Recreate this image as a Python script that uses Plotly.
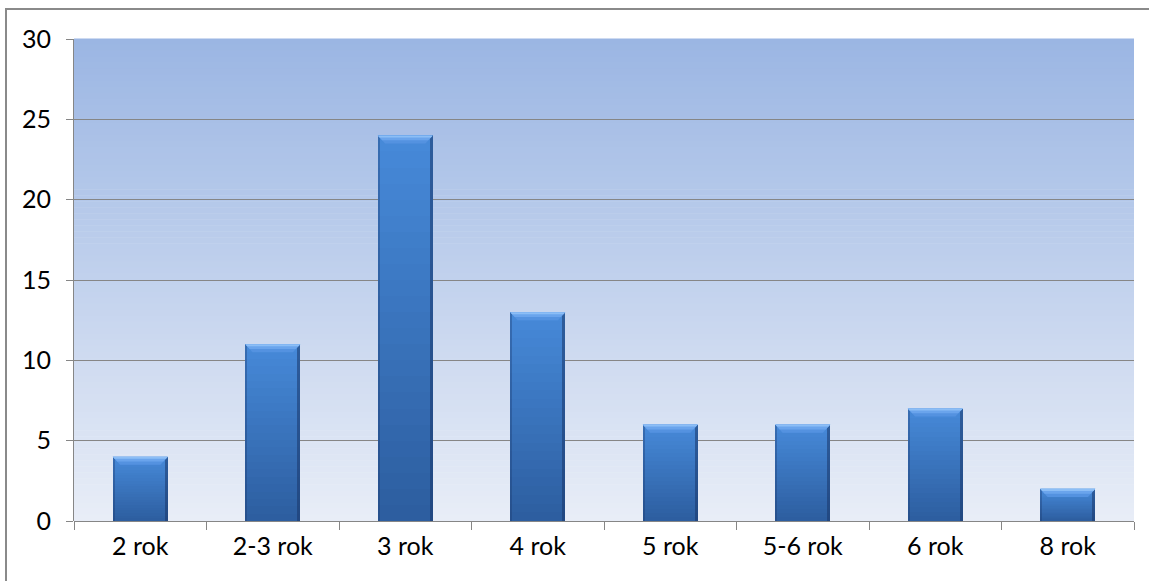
import plotly.graph_objects as go

# Data
categories = ["2 rok", "2-3 rok", "3 rok", "4 rok", "5 rok", "5-6 rok", "6 rok", "8 rok"]
counts = [4, 11, 24, 13, 6, 6, 7, 2]
y_ticks = [0, 5, 10, 15, 20, 25, 30]

positions = list(range(len(categories)))
BAR_W = 0.415
FONT = dict(family="Lato, 'Open Sans', sans-serif", size=25, color="#000000")


def mix(c1, c2, t):
    r = [round(a + (b - a) * t) for a, b in zip(c1, c2)]
    return "rgb(%d,%d,%d)" % tuple(r)


fig = go.Figure()

# Bar body: stacked overlays from light (top) to dark (bottom)
top_c, bot_c = (70, 137, 216), (45, 94, 160)
N = 24
for k in range(N):
    t = k / (N - 1)
    heights = [v * (N - k) / N for v in counts]
    fig.add_trace(go.Bar(
        x=positions, y=heights, width=BAR_W,
        marker=dict(color=mix(top_c, bot_c, t), line=dict(width=0)),
        hoverinfo="skip", showlegend=False,
    ))

# Darker side edges of each bar
edge_w = 0.022
fig.add_trace(go.Bar(
    x=positions, y=counts, width=edge_w, offset=BAR_W / 2 - edge_w,
    marker=dict(color="rgba(25,55,105,0.55)", line=dict(width=0)),
    hoverinfo="skip", showlegend=False,
))
fig.add_trace(go.Bar(
    x=positions, y=counts, width=edge_w * 0.7, offset=-BAR_W / 2,
    marker=dict(color="rgba(25,55,105,0.35)", line=dict(width=0)),
    hoverinfo="skip", showlegend=False,
))

# Bevelled top face of each bar
bev_h = 0.5
bev_x = 0.055
for layer_h, layer_col in [(bev_h, "rgb(84,146,224)"), (bev_h * 0.6, "rgb(106,164,236)"),
                           (bev_h * 0.25, "rgb(140,190,246)")]:
    for p, v in zip(positions, counts):
        xl, xr = p - BAR_W / 2, p + BAR_W / 2
        fx = bev_x * layer_h / bev_h
        fig.add_trace(go.Scatter(
            x=[xl, xr, xr - fx, xl + fx, xl],
            y=[v, v, v - layer_h, v - layer_h, v],
            fill="toself", fillcolor=layer_col, mode="lines",
            line=dict(width=0), hoverinfo="skip", showlegend=False,
        ))

# Plot background gradient bands
shapes = []
bands = 80
bg_top, bg_bot = (155, 182, 227), (232, 237, 247)
for i in range(bands):
    t = i / (bands - 1)
    shapes.append(dict(
        type="rect", xref="paper", yref="paper",
        x0=0, x1=1, y0=1 - (i + 1) / bands, y1=1 - i / bands + 0.001,
        fillcolor=mix(bg_top, bg_bot, t), line=dict(width=0), layer="below",
    ))

# Chart frame
shapes.append(dict(
    type="rect", xref="paper", yref="paper",
    x0=(6 - 74) / 1060, x1=1.05, y0=-0.2, y1=1 + 30 / 482,
    line=dict(color="#8a8a8a", width=2), fillcolor="rgba(0,0,0,0)", layer="above",
))

fig.update_layout(
    width=1149, height=581,
    margin=dict(l=74, r=15, t=39, b=60),
    paper_bgcolor="white", plot_bgcolor="rgba(0,0,0,0)",
    barmode="overlay", bargap=0,
    shapes=shapes,
    font=FONT,
    xaxis=dict(
        range=[-0.5, 7.5], tickmode="array", tickvals=positions, ticktext=categories,
        ticks="", showgrid=False, zeroline=False, showline=False,
        ticklabelstandoff=8, tickfont=FONT,
        minor=dict(tickmode="linear", tick0=-0.5, dtick=1, ticks="outside",
                   ticklen=8, tickcolor="#868686", tickwidth=1, showgrid=False),
    ),
    yaxis=dict(
        range=[0, 30], tickmode="array", tickvals=y_ticks,
        ticks="outside", ticklen=7, tickcolor="#868686", tickwidth=1,
        showgrid=True, gridcolor="#868686", gridwidth=1,
        zeroline=True, zerolinecolor="#868686", zerolinewidth=1,
        showline=True, linecolor="#868686", linewidth=1,
        ticklabelstandoff=10, tickfont=FONT,
    ),
)

fig.write_html("out.html")
